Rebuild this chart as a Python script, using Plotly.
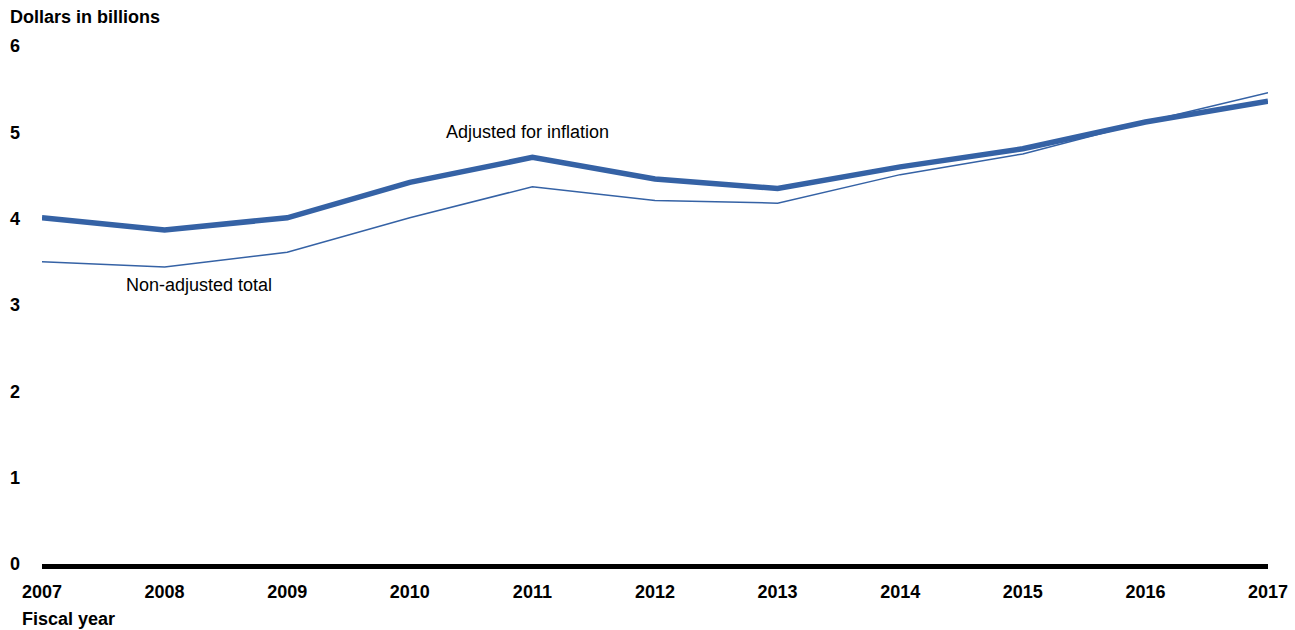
import plotly.graph_objects as go

# Fiscal years and spending totals (dollars in billions)
years = [2007, 2008, 2009, 2010, 2011, 2012, 2013, 2014, 2015, 2016, 2017]
adjusted = [4.01, 3.87, 4.01, 4.42, 4.71, 4.46, 4.35, 4.60, 4.81, 5.12, 5.36]
non_adjusted = [3.50, 3.44, 3.61, 4.01, 4.37, 4.21, 4.18, 4.51, 4.75, 5.12, 5.46]
y_ticks = [0, 1, 2, 3, 4, 5, 6]

BLUE = "#3562a5"
FONT = "Liberation Sans, Arial, sans-serif"

fig = go.Figure()
fig.add_trace(go.Scatter(
    x=years, y=non_adjusted, mode="lines",
    line=dict(color=BLUE, width=1.5), hoverinfo="skip", showlegend=False,
))
fig.add_trace(go.Scatter(
    x=years, y=adjusted, mode="lines",
    line=dict(color=BLUE, width=5.5), hoverinfo="skip", showlegend=False,
))

fig.update_layout(
    width=1295, height=630,
    margin=dict(l=42, r=27, t=46, b=66, autoexpand=False),
    paper_bgcolor="white", plot_bgcolor="white",
    font=dict(family=FONT, size=18, color="black"),
    title=dict(
        text="<b>Dollars in billions</b>",
        x=10 / 1295, xref="container", xanchor="left",
        y=1 - 17 / 630, yref="container", yanchor="middle",
        font=dict(family=FONT, size=18, color="black"),
    ),
    xaxis=dict(
        range=[2007, 2017], tickmode="array", tickvals=years,
        ticktext=[f"<b>{y}</b>" for y in years],
        showgrid=False, zeroline=False, automargin=False,
        showline=True, linecolor="black", linewidth=5,
        ticks="", ticklabelstandoff=7,
        tickfont=dict(family=FONT, size=18, color="black"),
    ),
    yaxis=dict(
        range=[0, 6], tickmode="array", tickvals=y_ticks,
        ticktext=[f"<b>{v}</b>" for v in y_ticks],
        showgrid=False, zeroline=False, showline=False, automargin=False,
        ticks="", ticklabelstandoff=21,
        tickfont=dict(family=FONT, size=18, color="black"),
    ),
    annotations=[
        dict(text="Adjusted for inflation", x=2010.96, y=5.0,
             xref="x", yref="y", showarrow=False,
             font=dict(family=FONT, size=18, color="black")),
        dict(text="Non-adjusted total", x=2008.28, y=3.23,
             xref="x", yref="y", showarrow=False,
             font=dict(family=FONT, size=18, color="black")),
        dict(text="<b>Fiscal year</b>", x=0, y=0, xref="paper", yref="paper",
             xanchor="left", yanchor="middle", xshift=-22, yshift=-55,
             showarrow=False, font=dict(family=FONT, size=18, color="black")),
    ],
)

fig.write_html("out.html")
